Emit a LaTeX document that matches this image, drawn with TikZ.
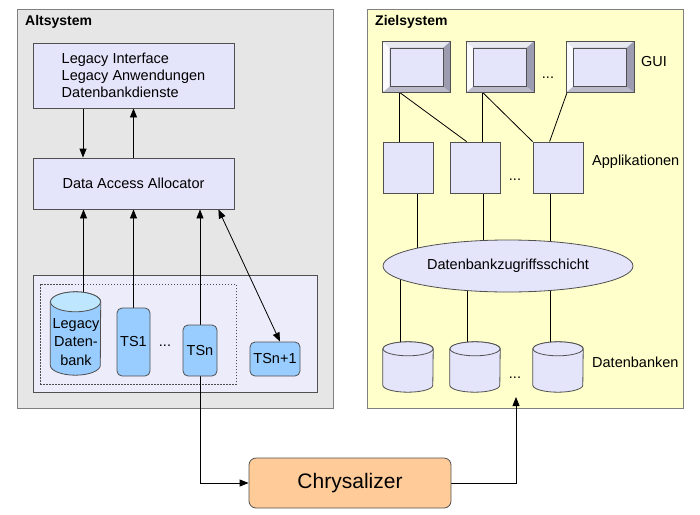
\documentclass[tikz,border=0pt]{standalone}
\usepackage{fontspec}
\setmainfont{Liberation Sans}
\usetikzlibrary{arrows.meta,shapes.geometric,calc}
\pgfdeclarelayer{bg}
\pgfdeclarelayer{wires}
\pgfsetlayers{bg,wires,main}
\definecolor{altgray}{HTML}{E6E6E6}
\definecolor{framegray}{HTML}{808080}
\definecolor{edge}{HTML}{505050}
\definecolor{lav}{HTML}{E4E4FB}
\definecolor{lavlight}{HTML}{ECECFA}
\definecolor{tsblue}{HTML}{99CCFF}
\definecolor{tstop}{HTML}{BFE6FF}
\definecolor{zielyel}{HTML}{FFFFCC}
\definecolor{chrysor}{HTML}{FFCC99}
\definecolor{bevtopc}{HTML}{E9E9F0}
\definecolor{bevleftc}{HTML}{FAFAFF}
\definecolor{bevrightc}{HTML}{9C9CB0}
\definecolor{bevbotc}{HTML}{BABACB}
\tikzset{
  txt/.style={font=\fontsize{14.5}{17}\selectfont, inner sep=0pt},
  ttl/.style={font=\fontsize{14}{17}\selectfont\bfseries, inner sep=0pt, anchor=west},
  container/.style={draw=framegray, line width=1pt, inner sep=0pt},
  lavbox/.style={draw=edge, fill=lav, line width=0.8pt, inner sep=0pt,
    font=\fontsize{14.5}{17}\selectfont},
  tsbox/.style={draw=edge, fill=tsblue, line width=0.8pt, inner sep=0pt,
    rounded corners=5pt, font=\fontsize{14.5}{17}\selectfont},
  cylline/.style={draw=edge, line width=0.8pt},
  monout/.style={draw=edge, fill=bevbotc, line width=0.8pt, inner sep=0pt,
    minimum width=67pt, minimum height=50pt},
  monin/.style={draw=edge, fill=lav, line width=0.6pt, inner sep=0pt,
    minimum width=53pt, minimum height=38pt},
  wire/.style={draw=black, line width=0.8pt},
  arr/.style={wire, -{Triangle[length=9pt,width=7pt]}},
  biarr/.style={wire, {Triangle[length=9pt,width=7pt]}-{Triangle[length=9pt,width=7pt]}},
}
% #1 name, #2 centre, #3 width, #4 height, #5 end radius, #6 body fill, #7 top fill
\newcommand\dbcylinder[7]{%
  \node[inner sep=0pt, minimum width=#3pt, minimum height=#4pt] (#1) at (#2) {};
  \pgfmathsetmacro\cylrx{#3/2}%
  \filldraw[cylline, fill=#6] ([yshift=-#5pt]#1.north west) -- ([yshift=#5pt]#1.south west)
    arc[start angle=180, end angle=0, x radius=\cylrx, y radius=#5]
    -- ([yshift=-#5pt]#1.north east)
    arc[start angle=0, end angle=-180, x radius=\cylrx, y radius=#5] -- cycle;
  \filldraw[cylline, fill=#7] ([yshift=-#5pt]#1.north) ellipse[x radius=\cylrx, y radius=#5];
}
\newcommand\guimon[2]{%
  \node[monout] (#1) at (#2) {};
  \fill[bevtopc] (#1.north west) -- (#1.north east) -- ([shift={(-7,6)}]#1.north east) -- ([shift={(7,6)}]#1.north west) -- cycle;
  \fill[bevleftc] (#1.north west) -- ([shift={(7,6)}]#1.north west) -- ([shift={(7,-6)}]#1.south west) -- (#1.south west) -- cycle;
  \fill[bevrightc] (#1.north east) -- (#1.south east) -- ([shift={(-7,-6)}]#1.south east) -- ([shift={(-7,6)}]#1.north east) -- cycle;
  \draw[edge, line width=0.8pt] (#1.north west) rectangle (#1.south east);
  \node[monin] (#1i) at (#2) {};
}
\begin{document}
\begin{tikzpicture}[x=1pt,y=-1pt]
\useasboundingbox (0,0) rectangle (700,514);

% containers
\begin{pgfonlayer}{bg}
  \node[container, fill=altgray, minimum width=316pt, minimum height=399pt] (alt) at (175,208.5) {};
  \node[container, fill=zielyel, minimum width=316pt, minimum height=399pt] (ziel) at (525,208.5) {};
  \node[draw=edge, fill=lavlight, line width=0.8pt, inner sep=0pt, minimum width=284pt, minimum height=117pt] (inner) at (175,333.5) {};
  \node[draw=black!70, line width=0.6pt, dash pattern=on 1.5pt off 1.5pt, inner sep=0pt, minimum width=196pt, minimum height=100pt] (group) at (138,334) {};
\end{pgfonlayer}

\node[ttl] (altT) at (25,22) {Altsystem};
\node[ttl] (zielT) at (375,22) {Zielsystem};

% Altsystem
\node[lavbox, minimum width=201pt, minimum height=65pt, align=left] (legacy) at (133.5,75.5)
  {Legacy Interface\\Legacy Anwendungen\\Datenbankdienste};
\node[lavbox, minimum width=201pt, minimum height=51pt] (daa) at (133.5,183.5) {Data Access Allocator};

\dbcylinder{ldb}{75.5,333.5}{50}{83}{10}{tsblue}{tstop}
\node[txt, align=center, font=\fontsize{14.5}{18.5}\selectfont] (ldbT) at (76,342) {Legacy\\Daten-\\bank};
\node[tsbox, minimum width=33pt, minimum height=68pt] (ts1) at (133.5,342) {TS1};
\node[txt] (adots) at (165,346) {...};
\node[tsbox, minimum width=34pt, minimum height=51pt] (tsn) at (200,350.5) {TSn};
\node[tsbox, minimum width=50pt, minimum height=34pt] (tsn1) at (275,359) {TSn+1};

% Chrysalizer
\node[draw=edge, fill=chrysor, line width=0.8pt, rounded corners=7pt, inner sep=0pt,
  minimum width=202pt, minimum height=50pt, font=\fontsize{21}{24}\selectfont] (chrys) at (350,483) {Chrysalizer};

% Zielsystem: GUI
\guimon{g1}{416.5,67}
\guimon{g2}{500,67}
\guimon{g3}{600,67}
\node[txt] (gdots) at (548,78) {...};
\node[txt, anchor=west] (guiL) at (641,62) {GUI};

% Applications
\node[lavbox, minimum width=50pt, minimum height=51pt] (a1) at (408,167.5) {};
\node[lavbox, minimum width=50pt, minimum height=51pt] (a2) at (475,167.5) {};
\node[lavbox, minimum width=50pt, minimum height=51pt] (a3) at (558,167.5) {};
\node[txt] (appdots) at (515,180) {...};
\node[txt, anchor=west] (appL) at (592,162) {Applikationen};

% DB access layer
\node[ellipse, draw=edge, fill=lav, line width=0.8pt, inner sep=0pt, minimum width=250pt, minimum height=52pt,
  font=\fontsize{14.5}{17}\selectfont] (dbl) at (508,266) {Datenbankzugriffsschicht};

% Databases
\dbcylinder{c1}{408,367}{50}{50}{7}{lav}{lav}
\dbcylinder{c2}{475,367}{50}{50}{7}{lav}{lav}
\dbcylinder{c3}{558,367}{50}{50}{7}{lav}{lav}
\node[txt] (dbdots) at (515,378) {...};
\node[txt, anchor=west] (dbL) at (592,362) {Datenbanken};
\coordinate (tgt) at (516,397);

% connectors
\begin{pgfonlayer}{wires}
  % Altsystem
  \draw[arr] ([xshift=-50.5pt]legacy.south) -- ([xshift=-50.5pt]daa.north);
  \draw[arr] (daa.north) -- (legacy.south);
  \draw[arr] ([xshift=8pt]ldb.center) -- ([xshift=8pt]ldb.center |- daa.south);
  \draw[arr] (ts1.center) -- (ts1.center |- daa.south);
  \draw[arr] (tsn.center) -- (tsn.center |- daa.south);
  \draw[biarr] ([xshift=-16pt]daa.south east) -- ([xshift=5pt]tsn1.north);
  % to Chrysalizer and back
  \draw[arr] (tsn.south) |- (chrys.west);
  \draw[arr] (chrys.east) -| (tgt);
  % GUI to apps
  \draw[wire] ([xshift=17pt]g1.south west) -- ([xshift=17pt]a1.north west);
  \draw[wire] ([xshift=17pt]g1.south west) -- ([xshift=17pt]a2.north west);
  \draw[wire] ([xshift=16.5pt]g2.south west) -- ([xshift=33pt]a2.north west);
  \draw[wire] ([xshift=16.5pt]g2.south west) -- (a3.north west);
  \draw[wire] ([xshift=1pt]g3.south west) -- ([xshift=17pt]a3.north west);
  % apps to layer
  \draw[wire] ([xshift=9pt]a1.center) -- ([xshift=9pt]a1.center |- dbl.center);
  \draw[wire] ([xshift=8pt]a2.center) -- ([xshift=8pt]a2.center |- dbl.center);
  \draw[wire] ([xshift=-8pt]a3.center) -- ([xshift=-8pt]a3.center |- dbl.center);
  % layer to databases
  \draw[wire] ([xshift=-8pt]c1.center |- dbl.center) -- ([xshift=-8pt]c1.center);
  \draw[wire] ([xshift=-8pt]c2.center |- dbl.center) -- ([xshift=-8pt]c2.center);
  \draw[wire] ([xshift=-8pt]c3.center |- dbl.center) -- ([xshift=-8pt]c3.center);
\end{pgfonlayer}
\end{tikzpicture}
\end{document}
